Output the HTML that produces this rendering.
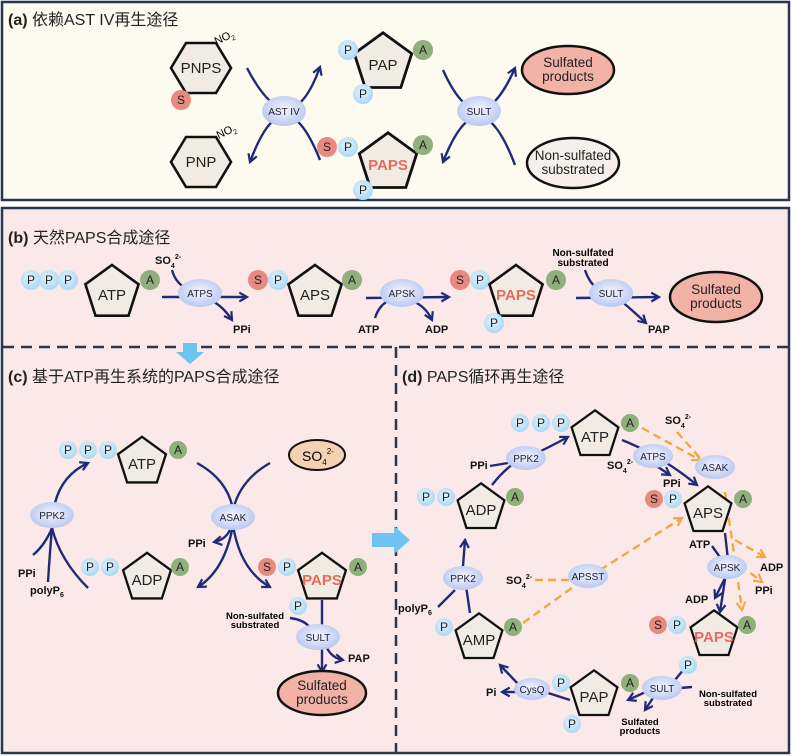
<!DOCTYPE html>
<html><head><meta charset="utf-8"><style>
html,body{margin:0;padding:0;background:#fff}
svg{display:block}
text{font-family:"Liberation Sans","Noto Sans CJK SC",sans-serif}
.t{font-size:16px;fill:#222}
.b{font-weight:bold}
.lab{font-size:11px;font-weight:bold;fill:#111}
.enz{font-size:10px;fill:#223}
.c{font-size:12px;fill:#222;text-anchor:middle}
.m{font-size:15px;fill:#222;text-anchor:middle}
.e{font-size:13.5px;fill:#222;text-anchor:middle}
.nav{fill:none;stroke:#1f2a7a;stroke-width:2.4}
.or{fill:none;stroke:#f0a840;stroke-width:2.4;stroke-dasharray:8,5}
</style></head><body>
<svg width="792" height="756" viewBox="0 0 792 756" xmlns="http://www.w3.org/2000/svg">
<defs>
<polygon id="pent" points="0,-28 26.6,-8.7 16.5,22.7 -16.5,22.7 -26.6,-8.7" fill="#f1ebe4" stroke="#111" stroke-width="2.6" stroke-linejoin="miter"/>
<radialGradient id="eg" cx="50%" cy="45%" r="60%"><stop offset="0" stop-color="#f4f6ff"/><stop offset="1" stop-color="#b4c4ef"/></radialGradient>
<radialGradient id="pg" cx="45%" cy="40%" r="65%"><stop offset="0" stop-color="#e6f4fd"/><stop offset="1" stop-color="#a6d6f3"/></radialGradient>
<marker id="ar" viewBox="0 0 10 10" refX="8" refY="5" markerWidth="11" markerHeight="11" markerUnits="userSpaceOnUse" orient="auto"><path d="M1,1 L8,5 L1,9" fill="none" stroke="#1f2a7a" stroke-width="2"/></marker>
<marker id="ao" viewBox="0 0 10 10" refX="8" refY="5" markerWidth="11" markerHeight="11" markerUnits="userSpaceOnUse" orient="auto"><path d="M1,1 L8,5 L1,9" fill="none" stroke="#f0a840" stroke-width="2"/></marker>
</defs>

<!-- panel a -->
<rect x="2" y="2" width="787" height="198" fill="#fdfaf0" stroke="#2a3550" stroke-width="2.5"/>
<text x="8" y="25" class="t"><tspan class="b">(a)</tspan> 依赖AST IV再生途径</text>
<polygon points="186,43 216,43 231,68 216,93 186,93 171,68" fill="#f1ebe4" stroke="#111" stroke-width="2.6"/>
<text x="201" y="73" class="m">PNPS</text>
<text x="214" y="42" font-size="11" transform="rotate(-25 222 38)">NO<tspan font-size="7" dy="3">2</tspan></text>
<circle cx="181" cy="100" r="10" fill="#e88a80"/><text x="181" y="104" class="c">S</text>
<polygon points="186,137 216,137 231,162 216,187 186,187 171,162" fill="#f1ebe4" stroke="#111" stroke-width="2.6"/>
<text x="201" y="167" class="m">PNP</text>
<text x="216" y="136" font-size="11" transform="rotate(-25 224 132)">NO<tspan font-size="7" dy="3">2</tspan></text>
<path class="nav" d="M247,68 Q290,150 320,67" marker-end="url(#ar)"/>
<path class="nav" d="M320,160 Q284,70 250,162" marker-end="url(#ar)"/>
<ellipse cx="284" cy="111" rx="22" ry="15" fill="url(#eg)"/><text x="284" y="115" class="enz" text-anchor="middle">AST IV</text>
<use href="#pent" transform="translate(383,63) scale(1.08)"/><text x="383" y="70" class="m">PAP</text>
<circle cx="348" cy="50" r="10" fill="url(#pg)"/><text x="348" y="54" class="c">P</text>
<circle cx="423" cy="50" r="10" fill="#8fb07a"/><text x="423" y="54" class="c">A</text>
<circle cx="363" cy="94" r="10" fill="url(#pg)"/><text x="363" y="98" class="c">P</text>
<use href="#pent" transform="translate(388,163) scale(1.08)"/><text x="388" y="170" class="m b" style="fill:#e86a5a">PAPS</text>
<circle cx="327" cy="147" r="10" fill="#e88a80"/><text x="327" y="151" class="c">S</text>
<circle cx="348" cy="147" r="10" fill="url(#pg)"/><text x="348" y="151" class="c">P</text>
<circle cx="423" cy="145" r="10" fill="#8fb07a"/><text x="423" y="149" class="c">A</text>
<circle cx="363" cy="190" r="10" fill="url(#pg)"/><text x="363" y="194" class="c">P</text>
<path class="nav" d="M443,70 Q479,150 515,68" marker-end="url(#ar)"/>
<path class="nav" d="M515,165 Q479,70 443,162" marker-end="url(#ar)"/>
<ellipse cx="479" cy="111" rx="22" ry="15" fill="url(#eg)"/><text x="479" y="115" class="enz" text-anchor="middle">SULT</text>
<ellipse cx="568" cy="70" rx="46" ry="24" fill="#f2b2a6" stroke="#111" stroke-width="2.5"/>
<text x="568" y="67" class="e">Sulfated</text><text x="568" y="81" class="e">products</text>
<ellipse cx="573" cy="163" rx="46" ry="25" fill="#f7f0ea" stroke="#111" stroke-width="2.5"/>
<text x="573" y="160" class="e">Non-sulfated</text><text x="573" y="174" class="e">substrated</text>

<!-- panel b/c/d -->
<rect x="2" y="208" width="787" height="545" fill="#fbe9e9" stroke="#2a3550" stroke-width="2.5"/>
<line x1="3" y1="347" x2="789" y2="347" stroke="#2a3550" stroke-width="2.5" stroke-dasharray="11,7"/>
<line x1="396" y1="347" x2="396" y2="752" stroke="#2a3550" stroke-width="2.5" stroke-dasharray="11,7"/>
<text x="8" y="243" class="t"><tspan class="b">(b)</tspan> 天然PAPS合成途径</text>
<circle cx="31" cy="280" r="10" fill="url(#pg)"/><text x="31" y="284" class="c">P</text>
<circle cx="49" cy="280" r="10" fill="url(#pg)"/><text x="49" y="284" class="c">P</text>
<circle cx="68" cy="280" r="10" fill="url(#pg)"/><text x="68" y="284" class="c">P</text>
<use href="#pent" transform="translate(112,293)"/><text x="112" y="300" class="m">ATP</text>
<circle cx="150" cy="280" r="10" fill="#8fb07a"/><text x="150" y="284" class="c">A</text>
<text x="155" y="264" class="lab">SO<tspan font-size="7" dy="4">4</tspan><tspan font-size="7" dy="-9">2-</tspan></text>
<path class="nav" d="M162,297 L247,297" marker-end="url(#ar)"/>
<path class="nav" d="M172,270 Q176,285 190,290"/>
<path class="nav" d="M210,300 Q222,305 232,320" marker-end="url(#ar)"/>
<ellipse cx="200" cy="293" rx="22" ry="14" fill="url(#eg)"/><text x="200" y="297" class="enz" text-anchor="middle">ATPS</text>
<text x="233" y="333" class="lab">PPi</text>
<circle cx="258" cy="280" r="10" fill="#e88a80"/><text x="258" y="284" class="c">S</text>
<circle cx="278" cy="280" r="10" fill="url(#pg)"/><text x="278" y="284" class="c">P</text>
<use href="#pent" transform="translate(315,293)"/><text x="315" y="300" class="m">APS</text>
<circle cx="352" cy="280" r="10" fill="#8fb07a"/><text x="352" y="284" class="c">A</text>
<path class="nav" d="M366,298 L449,297" marker-end="url(#ar)"/>
<path class="nav" d="M375,318 Q380,302 395,298"/>
<path class="nav" d="M410,300 Q425,305 432,320" marker-end="url(#ar)"/>
<ellipse cx="402" cy="293" rx="22" ry="14" fill="url(#eg)"/><text x="402" y="297" class="enz" text-anchor="middle">APSK</text>
<text x="358" y="333" class="lab">ATP</text><text x="425" y="333" class="lab">ADP</text>
<circle cx="460" cy="280" r="10" fill="#e88a80"/><text x="460" y="284" class="c">S</text>
<circle cx="480" cy="280" r="10" fill="url(#pg)"/><text x="480" y="284" class="c">P</text>
<use href="#pent" transform="translate(516,293)"/><text x="516" y="300" class="m b" style="fill:#e86a5a">PAPS</text>
<circle cx="556" cy="280" r="10" fill="#8fb07a"/><text x="556" y="284" class="c">A</text>
<circle cx="494" cy="323" r="10" fill="url(#pg)"/><text x="494" y="327" class="c">P</text>
<text x="583" y="256" font-size="10" font-weight="bold" text-anchor="middle">Non-sulfated</text>
<text x="583" y="266" font-size="10" font-weight="bold" text-anchor="middle">substrated</text>
<path class="nav" d="M576,298 L659,297" marker-end="url(#ar)"/>
<path class="nav" d="M585,270 Q590,285 600,290"/>
<path class="nav" d="M620,300 Q632,310 646,323" marker-end="url(#ar)"/>
<ellipse cx="611" cy="293" rx="22" ry="14" fill="url(#eg)"/><text x="611" y="297" class="enz" text-anchor="middle">SULT</text>
<text x="648" y="333" class="lab">PAP</text>
<ellipse cx="716" cy="297" rx="46" ry="25" fill="#f2b2a6" stroke="#111" stroke-width="2.5"/>
<text x="716" y="294" class="e">Sulfated</text><text x="716" y="308" class="e">products</text>
<polygon points="183,343 197,343 197,352 204,352 190,364 176,352 183,352" fill="#6ec3f0"/>

<!-- panel c -->
<text x="8" y="382" class="t"><tspan class="b">(c)</tspan> 基于ATP再生系统的PAPS合成途径</text>
<circle cx="68" cy="450" r="9" fill="url(#pg)"/><text x="68" y="454" class="c">P</text>
<circle cx="88" cy="450" r="9" fill="url(#pg)"/><text x="88" y="454" class="c">P</text>
<circle cx="108" cy="450" r="9" fill="url(#pg)"/><text x="108" y="454" class="c">P</text>
<use href="#pent" transform="translate(142,462) scale(0.9)"/><text x="142" y="469" class="m">ATP</text>
<circle cx="178" cy="450" r="9" fill="#8fb07a"/><text x="178" y="454" class="c">A</text>
<ellipse cx="317" cy="455" rx="28" ry="15" fill="#f6d2b4" stroke="#111" stroke-width="2"/>
<text x="302" y="461" font-size="14">SO<tspan font-size="8" dy="4">4</tspan><tspan font-size="8" dy="-11">2-</tspan></text>
<path class="nav" d="M55,503 Q62,475 88,463" marker-end="url(#ar)"/>
<path class="nav" d="M33,555 Q45,545 52,528"/>
<path class="nav" d="M48,582 Q50,550 52,528"/>
<path class="nav" d="M88,588 Q60,560 52,528"/>
<ellipse cx="52" cy="515" rx="22" ry="13" fill="url(#eg)"/><text x="52" y="519" class="enz" text-anchor="middle">PPK2</text>
<text x="18" y="577" class="lab">PPi</text>
<text x="30" y="594" class="lab">polyP<tspan font-size="7" dy="3">6</tspan></text>
<circle cx="90" cy="567" r="9" fill="url(#pg)"/><text x="90" y="571" class="c">P</text>
<circle cx="110" cy="567" r="9" fill="url(#pg)"/><text x="110" y="571" class="c">P</text>
<use href="#pent" transform="translate(147,578) scale(0.9)"/><text x="147" y="585" class="m">ADP</text>
<circle cx="180" cy="567" r="9" fill="#8fb07a"/><text x="180" y="571" class="c">A</text>
<path class="nav" d="M197,463 Q228,480 233,510"/>
<path class="nav" d="M270,463 Q240,480 233,510"/>
<path class="nav" d="M233,525 Q225,570 198,587" marker-end="url(#ar)"/>
<path class="nav" d="M233,525 Q240,570 270,587" marker-end="url(#ar)"/>
<path class="nav" d="M230,530 Q225,540 214,542" marker-end="url(#ar)"/>
<ellipse cx="233" cy="517" rx="22" ry="13" fill="url(#eg)"/><text x="233" y="521" class="enz" text-anchor="middle">ASAK</text>
<text x="188" y="547" class="lab">PPi</text>
<circle cx="267" cy="567" r="9" fill="#e88a80"/><text x="267" y="571" class="c">S</text>
<circle cx="287" cy="567" r="9" fill="url(#pg)"/><text x="287" y="571" class="c">P</text>
<use href="#pent" transform="translate(322,578) scale(0.9)"/><text x="322" y="585" class="m b" style="fill:#e86a5a">PAPS</text>
<circle cx="358" cy="567" r="9" fill="#8fb07a"/><text x="358" y="571" class="c">A</text>
<path class="nav" d="M322,600 L322,628"/>
<path class="nav" d="M290,618 Q305,620 310,628"/>
<path class="nav" d="M322,646 L322,672" marker-end="url(#ar)"/>
<path class="nav" d="M327,648 Q332,658 343,660" marker-end="url(#ar)"/>
<circle cx="298" cy="606" r="9" fill="url(#pg)"/><text x="298" y="610" class="c">P</text>
<text x="255" y="619" font-size="9.5" font-weight="bold" text-anchor="middle">Non-sulfated</text>
<text x="255" y="628" font-size="9.5" font-weight="bold" text-anchor="middle">substrated</text>
<ellipse cx="318" cy="637" rx="22" ry="13" fill="url(#eg)"/><text x="318" y="641" class="enz" text-anchor="middle">SULT</text>
<text x="348" y="662" class="lab">PAP</text>
<ellipse cx="322" cy="693" rx="44" ry="22" fill="#f2b2a6" stroke="#111" stroke-width="2.5"/>
<text x="322" y="690" class="e">Sulfated</text><text x="322" y="704" class="e">products</text>
<polygon points="372,533 394,533 394,526 410,540 394,554 394,547 372,547" fill="#6ec3f0"/>

<!-- panel d -->
<text x="402" y="382" class="t"><tspan class="b">(d)</tspan> PAPS循环再生途径</text>
<path class="or" d="M642,428 L700,460" marker-end="url(#ao)"/>
<path class="or" d="M677,432 L700,458"/>
<path class="or" d="M725,492 Q735,560 742,610" marker-end="url(#ao)"/>
<path class="or" d="M735,540 L765,557" marker-end="url(#ao)"/>
<path class="or" d="M740,565 L762,582" marker-end="url(#ao)"/>
<path class="or" d="M523,623 L580,582"/>
<path class="or" d="M600,570 L682,518" marker-end="url(#ao)"/>
<path class="or" d="M535,580 L575,580"/>
<path class="nav" d="M492,485 Q510,462 526,458 Q548,448 568,437" marker-end="url(#ar)"/>
<path class="nav" d="M490,466 L508,463"/>
<path class="nav" d="M622,440 Q660,455 697,485" marker-end="url(#ar)"/>
<path class="nav" d="M640,462 L660,455"/>
<path class="nav" d="M655,465 L670,475" marker-end="url(#ar)"/>
<path class="nav" d="M725,533 L728,560 L720,612" marker-end="url(#ar)"/>
<path class="nav" d="M712,546 L722,560"/>
<path class="nav" d="M725,578 L715,598" marker-end="url(#ar)"/>
<path class="nav" d="M684,669 L675,680"/>
<path class="nav" d="M692,687 L680,688"/>
<path class="nav" d="M650,690 L628,700" marker-end="url(#ar)"/>
<path class="nav" d="M655,695 L645,710" marker-end="url(#ar)"/>
<path class="nav" d="M570,700 L545,692"/>
<path class="nav" d="M520,686 L500,665" marker-end="url(#ar)"/>
<path class="nav" d="M520,692 L502,692" marker-end="url(#ar)"/>
<path class="nav" d="M470,613 L463,566 L465,540" marker-end="url(#ar)"/>
<path class="nav" d="M438,607 L455,590"/>
<circle cx="520" cy="423" r="9" fill="url(#pg)"/><text x="520" y="427" class="c">P</text>
<circle cx="541" cy="423" r="9" fill="url(#pg)"/><text x="541" y="427" class="c">P</text>
<circle cx="561" cy="423" r="9" fill="url(#pg)"/><text x="561" y="427" class="c">P</text>
<use href="#pent" transform="translate(595,435) scale(0.88)"/><text x="595" y="442" class="m">ATP</text>
<circle cx="630" cy="423" r="9" fill="#8fb07a"/><text x="630" y="427" class="c">A</text>
<ellipse cx="526" cy="458" rx="20" ry="12" fill="url(#eg)"/><text x="526" y="462" class="enz" text-anchor="middle">PPK2</text>
<text x="470" y="469" class="lab">PPi</text>
<circle cx="426" cy="497" r="9" fill="url(#pg)"/><text x="426" y="501" class="c">P</text>
<circle cx="446" cy="497" r="9" fill="url(#pg)"/><text x="446" y="501" class="c">P</text>
<use href="#pent" transform="translate(481,508) scale(0.88)"/><text x="481" y="515" class="m">ADP</text>
<circle cx="515" cy="497" r="9" fill="#8fb07a"/><text x="515" y="501" class="c">A</text>
<ellipse cx="463" cy="578" rx="20" ry="12" fill="url(#eg)"/><text x="463" y="582" class="enz" text-anchor="middle">PPK2</text>
<text x="398" y="612" class="lab">polyP<tspan font-size="7" dy="3">6</tspan></text>
<circle cx="444" cy="627" r="9" fill="url(#pg)"/><text x="444" y="631" class="c">P</text>
<use href="#pent" transform="translate(479,638) scale(0.88)"/><text x="479" y="645" class="m">AMP</text>
<circle cx="513" cy="627" r="9" fill="#8fb07a"/><text x="513" y="631" class="c">A</text>
<ellipse cx="588" cy="576" rx="20" ry="12" fill="url(#eg)"/><text x="588" y="580" class="enz" text-anchor="middle">APSST</text>
<text x="506" y="584" class="lab">SO<tspan font-size="7" dy="4">4</tspan><tspan font-size="7" dy="-9">2-</tspan></text>
<ellipse cx="653" cy="456" rx="20" ry="12" fill="url(#eg)"/><text x="653" y="460" class="enz" text-anchor="middle">ATPS</text>
<text x="607" y="469" class="lab">SO<tspan font-size="7" dy="4">4</tspan><tspan font-size="7" dy="-9">2-</tspan></text>
<text x="663" y="487" class="lab">PPi</text>
<text x="665" y="424" class="lab">SO<tspan font-size="7" dy="4">4</tspan><tspan font-size="7" dy="-9">2-</tspan></text>
<ellipse cx="715" cy="467" rx="20" ry="12" fill="url(#eg)"/><text x="715" y="471" class="enz" text-anchor="middle">ASAK</text>
<circle cx="654" cy="499" r="9" fill="#e88a80"/><text x="654" y="503" class="c">S</text>
<circle cx="673" cy="499" r="9" fill="url(#pg)"/><text x="673" y="503" class="c">P</text>
<use href="#pent" transform="translate(708,511) scale(0.88)"/><text x="708" y="518" class="m">APS</text>
<circle cx="743" cy="499" r="9" fill="#8fb07a"/><text x="743" y="503" class="c">A</text>
<text x="689" y="548" class="lab">ATP</text>
<ellipse cx="727" cy="567" rx="20" ry="12" fill="url(#eg)"/><text x="727" y="571" class="enz" text-anchor="middle">APSK</text>
<text x="760" y="571" class="lab">ADP</text>
<text x="755" y="594" class="lab">PPi</text>
<text x="685" y="603" class="lab">ADP</text>
<circle cx="658" cy="625" r="9" fill="#e88a80"/><text x="658" y="629" class="c">S</text>
<circle cx="677" cy="625" r="9" fill="url(#pg)"/><text x="677" y="629" class="c">P</text>
<use href="#pent" transform="translate(714,635) scale(0.88)"/><text x="714" y="642" class="m b" style="fill:#e86a5a">PAPS</text>
<circle cx="747" cy="625" r="9" fill="#8fb07a"/><text x="747" y="629" class="c">A</text>
<circle cx="688" cy="665" r="9" fill="url(#pg)"/><text x="688" y="669" class="c">P</text>
<ellipse cx="662" cy="688" rx="20" ry="12" fill="url(#eg)"/><text x="662" y="692" class="enz" text-anchor="middle">SULT</text>
<text x="728" y="697" font-size="9.5" font-weight="bold" text-anchor="middle">Non-sulfated</text>
<text x="728" y="706" font-size="9.5" font-weight="bold" text-anchor="middle">substrated</text>
<use href="#pent" transform="translate(594,695) scale(0.88)"/><text x="594" y="702" class="m">PAP</text>
<circle cx="630" cy="683" r="9" fill="#8fb07a"/><text x="630" y="687" class="c">A</text>
<circle cx="561" cy="683" r="9" fill="url(#pg)"/><text x="561" y="687" class="c">P</text>
<circle cx="572" cy="724" r="9" fill="url(#pg)"/><text x="572" y="728" class="c">P</text>
<text x="640" y="725" font-size="9.5" font-weight="bold" text-anchor="middle">Sulfated</text>
<text x="640" y="734" font-size="9.5" font-weight="bold" text-anchor="middle">products</text>
<ellipse cx="532" cy="689" rx="18" ry="11" fill="url(#eg)"/><text x="532" y="693" class="enz" text-anchor="middle">CysQ</text>
<text x="486" y="696" class="lab">Pi</text>
</svg>
</body></html>
